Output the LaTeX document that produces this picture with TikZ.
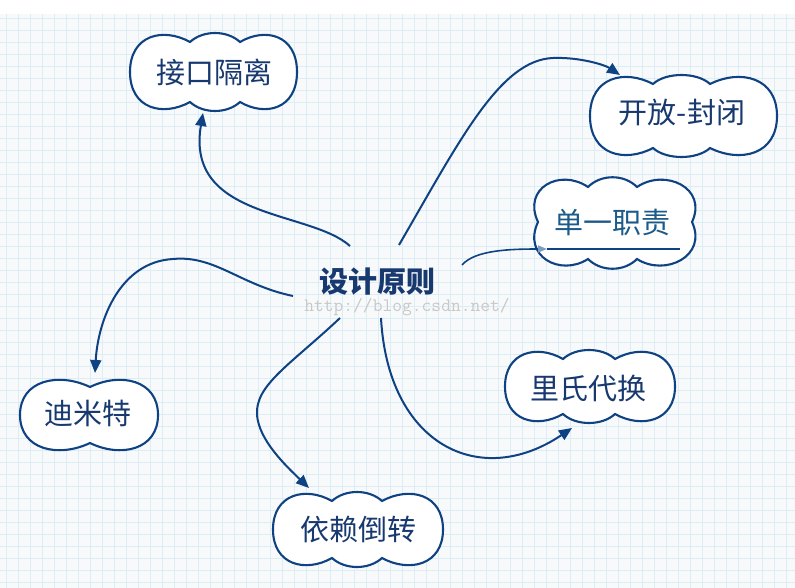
\documentclass[tikz,border=0pt]{standalone}
\usepackage{fontspec}
\newfontfamily\cjk{Noto Sans CJK SC}
\usetikzlibrary{arrows.meta}
\definecolor{gridc}{HTML}{DCEEF4}
\definecolor{bgc}{HTML}{F8F9FA}
\definecolor{navy}{HTML}{0E4283}
\definecolor{txt}{HTML}{17396F}
\definecolor{txttwo}{HTML}{1C5A8A}
\definecolor{wm}{HTML}{C8C8C8}
\definecolor{tipgray}{HTML}{7F9CC0}
\tikzset{
  cloudline/.style={draw=navy, fill=white, line width=2.1pt},
  lbl/.style={inner sep=0pt, text=txt, font=\cjk\fontsize{29}{31}\selectfont},
  ctr/.style={inner sep=0pt, text=txt, font=\cjk\bfseries\fontsize{29}{31}\selectfont},
  wmk/.style={inner sep=0pt, text=wm, font=\ttfamily\fontsize{19}{20}\selectfont},
  conn/.style={draw=navy, line width=2pt, -{Triangle[length=13pt,width=11pt]}},
  gridline/.style={draw=gridc, line width=0.8pt}
}
% three-bump cloud: L R T B d1 d2
\newcommand\mycloudthree[6]{%
\filldraw[cloudline] (#5,#3+9) .. controls (#5+13,#3-3) and (#6-13,#3-3) .. (#6,#3+9)
 .. controls ({#6+0.45*(#2-#6)},#3-6) and (#2,#3+2) .. (#2,{(#3+#4)/2})
 .. controls (#2,#4-2) and ({#6+0.45*(#2-#6)},#4+6) .. (#6,#4-9)
 .. controls (#6-13,#4+3) and (#5+13,#4+3) .. (#5,#4-9)
 .. controls ({#5-0.45*(#5-#1)},#4+6) and (#1,#4-2) .. (#1,{(#3+#4)/2})
 .. controls (#1,#3+2) and ({#5-0.45*(#5-#1)},#3-6) .. (#5,#3+9) -- cycle;}
% two-bump cloud: L R T B d
\newcommand\mycloudtwo[5]{%
\filldraw[cloudline] (#5,#3+9)
 .. controls ({#5+0.45*(#2-#5)},#3-6) and (#2,#3+2) .. (#2,{(#3+#4)/2})
 .. controls (#2,#4-2) and ({#5+0.45*(#2-#5)},#4+6) .. (#5,#4-9)
 .. controls ({#5-0.45*(#5-#1)},#4+6) and (#1,#4-2) .. (#1,{(#3+#4)/2})
 .. controls (#1,#3+2) and ({#5-0.45*(#5-#1)},#3-6) .. (#5,#3+9) -- cycle;}
\begin{document}
\begin{tikzpicture}[x=1pt,y=-1pt]
\useasboundingbox (0,0) rectangle (795,588);
\fill[white] (0,0) rectangle (795,588);
\fill[bgc] (0,14) rectangle (795,588);
\foreach \x in {6,18,...,786} \draw[gridline] (\x,14) -- (\x,588);
\foreach \k in {0,...,47} \draw[gridline] (0,{18.7+12*\k}) -- (795,{18.7+12*\k});
% clouds
\mycloudthree{130}{297}{33}{111}{190}{240}
\mycloudthree{590}{777}{75}{157}{653}{710}
\mycloudthree{273}{443}{492}{567}{332}{382}
\mycloudthree{505}{675}{350}{423}{563}{615}
\mycloudtwo{20}{158}{378}{452}{90}
% single responsibility cloud with side dips
\filldraw[cloudline] (588,187) .. controls (601,174) and (624,174) .. (637,187)
 .. controls (665,168) and (708,188) .. (692,222)
 .. controls (708,256) and (665,277) .. (637,259)
 .. controls (624,272) and (601,272) .. (588,259)
 .. controls (560,277) and (522,256) .. (538,222)
 .. controls (522,188) and (560,168) .. (588,187) -- cycle;
% labels
\node[lbl] (jk) at (214,72) {接口隔离};
\node[lbl] (kf) at (682,113) {开放-封闭};
\node[lbl, text=txttwo] (dz) at (612,223) {单一职责};
\node[lbl] (dm) at (88,413) {迪米特};
\node[lbl] (yl) at (358,530) {依赖倒转};
\node[lbl] (ls) at (588,388) {里氏代换};
\node[wmk] (w) at (407,307) {http://blog.csdn.net/};
\node[ctr] (c) at (377,282) {设计原则};
% underline
\coordinate (ua) at (547,249);
\coordinate (ub) at (680,249);
\draw[navy, line width=2.2pt] (ua) -- (ub);
% connector endpoints
\coordinate (s1) at (350,246); \coordinate (e1) at (203,113);
\coordinate (s2) at (399,245); \coordinate (m2) at (553,58); \coordinate (e2) at (620,75);
\coordinate (s3) at (462,265); \coordinate (e3) at (547,249);
\coordinate (s4) at (293,296); \coordinate (m4) at (173,259); \coordinate (e4) at (95,373);
\coordinate (s5) at (340,318); \coordinate (m5) at (257,415); \coordinate (e5) at (309,488);
\coordinate (s6) at (381,318); \coordinate (e6) at (572,428);
\draw[conn] (s1) .. controls (310,210) and (185,220) .. (e1);
\draw[conn] (s2) .. controls (460,140) and (500,60) .. (m2) .. controls (580,57) and (605,65) .. (e2);
\draw[draw=navy, line width=1.6pt, -{Triangle[length=9pt,width=7pt,color=tipgray]}] (s3) .. controls (475,250) and (510,249) .. (e3);
\draw[conn] (s4) .. controls (240,285) and (215,255) .. (m4) .. controls (120,262) and (98,320) .. (e4);
\draw[conn] (s5) .. controls (290,365) and (255,385) .. (m5) .. controls (259,440) and (285,465) .. (e5);
\draw[conn] (s6) .. controls (388,445) and (480,490) .. (e6);
\end{tikzpicture}
\end{document}
